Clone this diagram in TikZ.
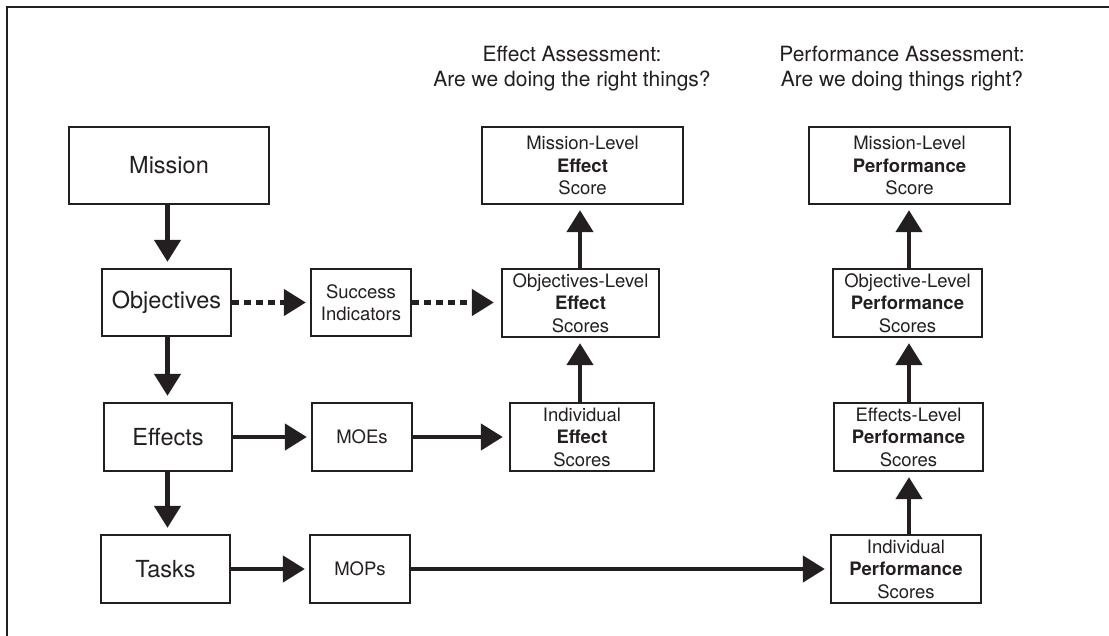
\documentclass[tikz,border=0pt]{standalone}
\usepackage{fontspec}
\setmainfont{TeX Gyre Heros}
\usetikzlibrary{arrows.meta}
\definecolor{ink}{HTML}{231F20}
\tikzset{
  box/.style={draw=ink, line width=2.3pt, text=ink, align=center, inner sep=0pt},
  big/.style={box, font=\fontsize{23.5}{28}\selectfont},
  small/.style={box, font=\fontsize{18.5}{22.5}\selectfont},
  title/.style={text=ink, align=center, inner sep=0pt, font=\fontsize{21}{25}\selectfont},
  arr/.style={draw=ink, line width=4.5pt, -{Triangle[length=22pt,width=26pt]}, shorten >=6pt},
  darr/.style={arr, dash pattern=on 7pt off 5pt}
}
\begin{document}
\begin{tikzpicture}[x=1pt,y=-1pt]
\useasboundingbox (0,0) rectangle (1109,636);
\draw[ink, line width=2pt] (7,636) -- (7,7) -- (1109,7);

% titles
\node[title] (t1) at (572,68.5) {Effect Assessment:\\Are we doing the right things?};
\node[title] (t2) at (902,68.5) {Performance Assessment:\\Are we doing things right?};

% left column
\node[big, minimum width=200pt, minimum height=77pt] (mis) at (169,165.5) {Mission};
\node[big, minimum width=129pt, minimum height=67pt] (obj) at (166.5,302.5) {Objectives};
\node[big, minimum width=128pt, minimum height=68pt] (eff) at (168,437) {Effects};
\node[big, minimum width=129pt, minimum height=68pt] (tsk) at (165.5,569) {Tasks};

% measures
\node[small, minimum width=100pt, minimum height=67pt] (suc) at (361,302.5) {Success\\Indicators};
\node[small, minimum width=100pt, minimum height=68pt] (moe) at (362,437) {MOEs};
\node[small, minimum width=100pt, minimum height=68pt] (mop) at (360,569) {MOPs};

% effect column
\node[small, minimum width=201pt, minimum height=77pt] (mle) at (582.5,165.5) {Mission-Level\\\textbf{Effect}\\Score};
\node[small, minimum width=157pt, minimum height=68pt] (ole) at (580.5,303) {Objectives-Level\\\textbf{Effect}\\Scores};
\node[small, minimum width=144pt, minimum height=68pt] (ie) at (582,437) {Individual\\\textbf{Effect}\\Scores};

% performance column
\node[small, minimum width=201pt, minimum height=77pt] (mlp) at (909.5,165.5) {Mission-Level\\\textbf{Performance}\\Score};
\node[small, minimum width=149pt, minimum height=68pt] (olp) at (907.5,303) {Objective-Level\\\textbf{Performance}\\Scores};
\node[small, minimum width=149pt, minimum height=68pt] (elp) at (908.5,437) {Effects-Level\\\textbf{Performance}\\Scores};
\node[small, minimum width=150pt, minimum height=68pt] (ip) at (906,569) {Individual\\\textbf{Performance}\\Scores};

% vertical arrows left
\draw[arr] (mis.south -| 167.5,0) -- (obj.north -| 167.5,0);
\draw[arr] (obj.south -| 167.5,0) -- (eff.north -| 167.5,0);
\draw[arr] (eff.south -| 167.5,0) -- (tsk.north -| 167.5,0);

% horizontal arrows
\draw[darr, shorten >=4pt] (obj.east) -- (suc.west);
\draw[darr, shorten >=7pt] (suc.east) -- (obj.east -| ole.west);
\draw[arr, shorten >=4pt] (eff.east) -- (moe.west);
\draw[arr] (moe.east) -- (moe.east -| ie.west);
\draw[arr, shorten >=4pt] (tsk.east) -- (mop.west);
\draw[arr, shorten >=5pt] (mop.east) -- (mop.east -| ip.west);

% upward arrows
\draw[arr, shorten >=5pt] (ie.north -| 580,0) -- (ole.south -| 580,0);
\draw[arr, shorten >=5pt] (ole.north -| 580,0) -- (mle.south -| 580,0);
\draw[arr, shorten >=5pt] (ip.north -| 909,0) -- (elp.south -| 909,0);
\draw[arr, shorten >=5pt] (elp.north -| 909,0) -- (olp.south -| 909,0);
\draw[arr, shorten >=5pt] (olp.north -| 909,0) -- (mlp.south -| 909,0);
\end{tikzpicture}
\end{document}
